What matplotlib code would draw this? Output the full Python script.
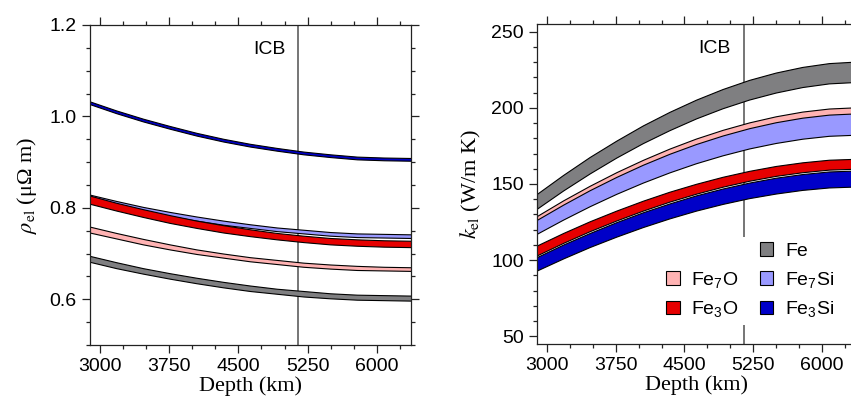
import matplotlib.pyplot as plt
from matplotlib.patches import Patch
from matplotlib.ticker import MultipleLocator, FormatStrFormatter

plt.rcParams['font.family'] = 'Liberation Sans'
plt.rcParams['mathtext.fontset'] = 'custom'
plt.rcParams['mathtext.rm'] = 'Liberation Sans'
plt.rcParams['mathtext.it'] = 'Liberation Sans:italic'

# depth samples (km), core-mantle boundary to centre
depth = [2891, 3181, 3471, 3761, 4051, 4341, 4631, 4921, 5211, 5501, 5791, 6081, 6371]
icb_depth = 5150

# electrical resistivity bands (micro-ohm m): lower / upper edge
rho_fe_lo = [0.681, 0.667, 0.655, 0.644, 0.634, 0.625, 0.617, 0.611, 0.605, 0.601, 0.598, 0.597, 0.596]
rho_fe_hi = [0.694, 0.680, 0.667, 0.656, 0.646, 0.637, 0.629, 0.622, 0.617, 0.612, 0.609, 0.608, 0.607]
rho_fe7o_lo = [0.745, 0.732, 0.719, 0.708, 0.698, 0.690, 0.682, 0.676, 0.670, 0.666, 0.663, 0.662, 0.661]
rho_fe7o_hi = [0.758, 0.744, 0.731, 0.719, 0.708, 0.699, 0.691, 0.685, 0.679, 0.675, 0.672, 0.670, 0.669]
rho_fe7si_lo = [0.819, 0.805, 0.793, 0.781, 0.771, 0.762, 0.755, 0.748, 0.743, 0.738, 0.735, 0.734, 0.733]
rho_fe7si_hi = [0.828, 0.814, 0.801, 0.790, 0.780, 0.771, 0.763, 0.756, 0.751, 0.746, 0.743, 0.742, 0.741]
rho_fe3o_lo = [0.808, 0.793, 0.779, 0.766, 0.755, 0.745, 0.737, 0.730, 0.724, 0.719, 0.716, 0.714, 0.713]
rho_fe3o_hi = [0.826, 0.810, 0.796, 0.783, 0.771, 0.761, 0.752, 0.744, 0.738, 0.733, 0.730, 0.728, 0.727]
rho_fe3si_lo = [1.026, 1.006, 0.988, 0.972, 0.957, 0.944, 0.933, 0.924, 0.916, 0.910, 0.905, 0.903, 0.902]
rho_fe3si_hi = [1.032, 1.012, 0.994, 0.978, 0.963, 0.950, 0.939, 0.930, 0.922, 0.916, 0.911, 0.909, 0.908]

# electronic thermal conductivity bands (W/m K): lower / upper edge
k_fe_lo = [133.3, 145.4, 156.6, 167.0, 176.5, 185.0, 192.7, 199.4, 205.1, 209.7, 213.3, 215.7, 216.6]
k_fe_hi = [143.0, 155.6, 167.4, 178.1, 188.1, 197.0, 205.0, 212.0, 218.0, 222.8, 226.5, 229.0, 230.0]
k_fe7o_lo = [124.5, 134.6, 144.1, 152.8, 160.8, 168.0, 174.4, 180.0, 184.8, 188.7, 191.7, 193.7, 194.5]
k_fe7o_hi = [128.5, 138.9, 148.5, 157.4, 165.5, 172.9, 179.5, 185.2, 190.1, 194.1, 197.2, 199.2, 200.0]
k_fe7si_lo = [116.9, 126.3, 135.1, 143.2, 150.6, 157.3, 163.3, 168.5, 173.0, 176.6, 179.4, 181.3, 182.0]
k_fe7si_hi = [126.0, 136.1, 145.6, 154.3, 162.3, 169.5, 175.9, 181.5, 186.3, 190.2, 193.2, 195.2, 196.0]
k_fe3o_lo = [102.7, 111.0, 118.7, 125.7, 132.2, 138.1, 143.3, 147.9, 151.8, 155.0, 157.4, 159.1, 159.7]
k_fe3o_hi = [109.2, 117.5, 125.2, 132.2, 138.7, 144.6, 149.8, 154.4, 158.3, 161.5, 163.9, 165.6, 166.2]
k_fe3si_lo = [92.8, 100.8, 108.3, 115.1, 121.4, 127.1, 132.2, 136.6, 140.4, 143.4, 145.8, 147.4, 148.0]
k_fe3si_hi = [101.6, 109.9, 117.5, 124.6, 131.1, 136.9, 142.2, 146.7, 150.6, 153.8, 156.2, 157.9, 158.5]

labels = ['Fe', 'Fe$_7$O', 'Fe$_7$Si', 'Fe$_3$O', 'Fe$_3$Si']
colors = ['#7f7f81', '#ffb3b3', '#9999ff', '#e60000', '#0000c8']

rho_bands = [(rho_fe_lo, rho_fe_hi), (rho_fe7o_lo, rho_fe7o_hi), (rho_fe7si_lo, rho_fe7si_hi),
             (rho_fe3o_lo, rho_fe3o_hi), (rho_fe3si_lo, rho_fe3si_hi)]
k_bands = [(k_fe_lo, k_fe_hi), (k_fe7o_lo, k_fe7o_hi), (k_fe7si_lo, k_fe7si_hi),
           (k_fe3o_lo, k_fe3o_hi), (k_fe3si_lo, k_fe3si_hi)]
draw_order = [0, 2, 1, 4, 3]

serif = 'Liberation Serif'

fig = plt.figure(figsize=(8.51, 4.01), dpi=100)
ax1 = fig.add_axes([90 / 851, 56 / 401, 321 / 851, 320 / 401])
ax2 = fig.add_axes([537 / 851, 57 / 401, 319 / 851, 320 / 401])


def draw_bands(ax, bands):
    ax.axvline(icb_depth, color='#6a6a6a', lw=1.3, zorder=1)
    for i in draw_order:
        lo, hi = bands[i]
        ax.fill_between(depth, lo, hi, facecolor=colors[i], lw=0, zorder=2 + i * 0.1)
        ax.plot(depth, lo, color='black', lw=0.8, zorder=2.05 + i * 0.1)
        ax.plot(depth, hi, color='black', lw=0.8, zorder=2.05 + i * 0.1)


def style_axes(ax):
    ax.set_xlim(2891, 6371)
    ax.xaxis.set_major_locator(MultipleLocator(750))
    ax.xaxis.set_minor_locator(MultipleLocator(250))
    ax.tick_params(which='both', direction='out', top=True, right=True,
                   labelsize=14, width=0.9, color='#222222')
    ax.tick_params(which='major', length=6, pad=3.5)
    ax.tick_params(which='minor', length=3)
    for s in ax.spines.values():
        s.set_linewidth(0.9)
        s.set_color('#222222')
    ax.set_xlabel('Depth (km)', fontsize=16, family=serif, labelpad=1)
    ax.annotate('ICB', xy=(icb_depth, 1), xycoords=('data', 'axes fraction'),
                xytext=(-9.5, -17.5), textcoords='offset points',
                ha='right', va='center', fontsize=14)


draw_bands(ax1, rho_bands)
style_axes(ax1)
ax1.set_ylim(0.5, 1.2)
ax1.yaxis.set_major_locator(MultipleLocator(0.2))
ax1.yaxis.set_minor_locator(MultipleLocator(0.05))
ax1.yaxis.set_major_formatter(FormatStrFormatter('%.1f'))
ax1.set_ylabel(r'$\rho_{\mathrm{el}}$ (μΩ m)', fontsize=16, family=serif,
               math_fontfamily='stix', labelpad=8)

draw_bands(ax2, k_bands)
style_axes(ax2)
ax2.set_ylim(45, 255)
ax2.yaxis.set_major_locator(MultipleLocator(50))
ax2.yaxis.set_minor_locator(MultipleLocator(10))
ax2.set_ylabel(r'$k_{\mathrm{el}}$ (W/m K)', fontsize=16, family=serif,
               math_fontfamily='stix', labelpad=6)

patches = [Patch(facecolor=c, edgecolor='black', lw=0.8) for c in colors]
blank = Patch(facecolor='none', edgecolor='none')
handles = [blank, patches[1], patches[3], patches[0], patches[2], patches[4]]
names = ['', labels[1], labels[3], labels[0], labels[2], labels[4]]
leg = ax2.legend(handles, names, ncol=2, loc='lower right',
                 bbox_to_anchor=(0.98, 0.028), fontsize=14,
                 handlelength=0.7, handleheight=0.7, handletextpad=0.6,
                 columnspacing=1.1, labelspacing=0.5, borderpad=0.3,
                 frameon=True, fancybox=False)
leg.get_frame().set_edgecolor('none')
leg.get_frame().set_facecolor('white')
leg.get_frame().set_alpha(1)
leg.set_zorder(5)

fig.savefig('out.png', dpi=100)
